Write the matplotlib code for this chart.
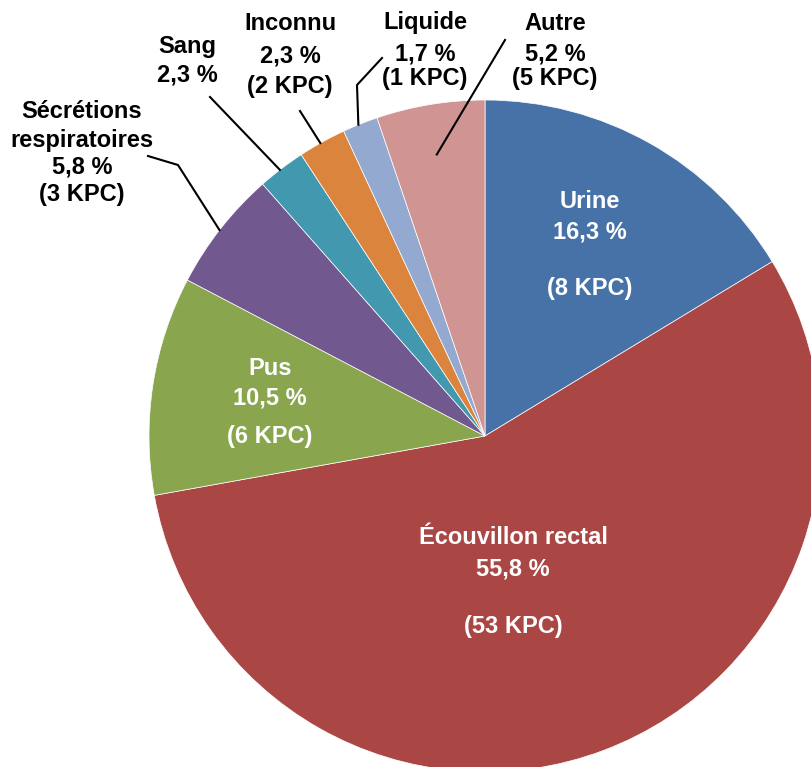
import numpy as np
import matplotlib.pyplot as plt

plt.rcParams['font.family'] = ['Liberation Sans', 'DejaVu Sans']

# Slices, clockwise from 12 o'clock
labels = ['Urine', 'Écouvillon rectal', 'Pus', 'Sécrétions\nrespiratoires',
          'Sang', 'Inconnu', 'Liquide', 'Autre']
percents = [16.3, 55.8, 10.5, 5.8, 2.3, 2.3, 1.7, 5.2]
kpc = [8, 53, 6, 3, None, 2, 1, 5]
colors = ['#4672A8', '#AA4644', '#89A54E', '#71588F',
          '#4198AF', '#DB843D', '#93A9CF', '#D09493']

W, H = 812, 767
fig = plt.figure(figsize=(W / 100, H / 100), dpi=100)
ax = fig.add_axes([0, 0, 1, 1])

cx, cy, r = 485, H - 436, 336
wedges, _ = ax.pie(percents, colors=colors, startangle=90, counterclock=False,
                   center=(cx, cy), radius=r, frame=True,
                   wedgeprops=dict(edgecolor='white', linewidth=0.5))
ax.set_xlim(0, W)
ax.set_ylim(0, H)
ax.set_aspect('equal')
ax.axis('off')


def fmt(p):
    return f'{p:.1f}'.replace('.', ',') + ' %'


def lines_for(i):
    out = labels[i].split('\n') + [fmt(percents[i])]
    if kpc[i] is not None:
        out.append(f'({kpc[i]} KPC)')
    return out


def put(x, y_list, texts, color):
    for y, t in zip(y_list, texts):
        ax.text(x, H - y, t, ha='center', va='center', fontsize=17,
                fontweight='bold', color=color)


# inside labels (white), blank line before count
put(590, [202, 232, 289], lines_for(0), 'white')
put(513, [538, 569, 627], lines_for(1), 'white')
put(270, [369, 398, 437], lines_for(2), 'white')

# outside labels (black)
put(82, [111, 140, 167, 194], lines_for(3), 'black')
put(187, [46, 75], lines_for(4), 'black')
put(290, [23, 56, 87], lines_for(5), 'black')
put(425, [23, 54, 79], lines_for(6), 'black')
put(555, [23, 54, 79], lines_for(7), 'black')

# leader lines from wedge middle to label
bounds = np.cumsum([0] + percents)
def edge_pt(i, frac=1.0):
    a = np.deg2rad(90 - 3.6 * (bounds[i] + bounds[i + 1]) / 2)
    return cx + frac * r * np.cos(a), cy + frac * r * np.sin(a)

leaders = {3: ([(178, 165), (148, 156)], 1.0),
           4: ([(210, 97)], 1.0),
           5: ([(300, 111)], 1.0),
           6: ([(357, 85), (382, 58)], 1.0),
           7: ([(505, 40)], 0.85)}
for i, (pts, frac) in leaders.items():
    x0, y0 = edge_pt(i, frac)
    xs = [x0] + [p[0] for p in pts]
    ys = [y0] + [H - p[1] for p in pts]
    ax.plot(xs, ys, color='black', linewidth=1.5)

fig.savefig('out.png', dpi=100)
